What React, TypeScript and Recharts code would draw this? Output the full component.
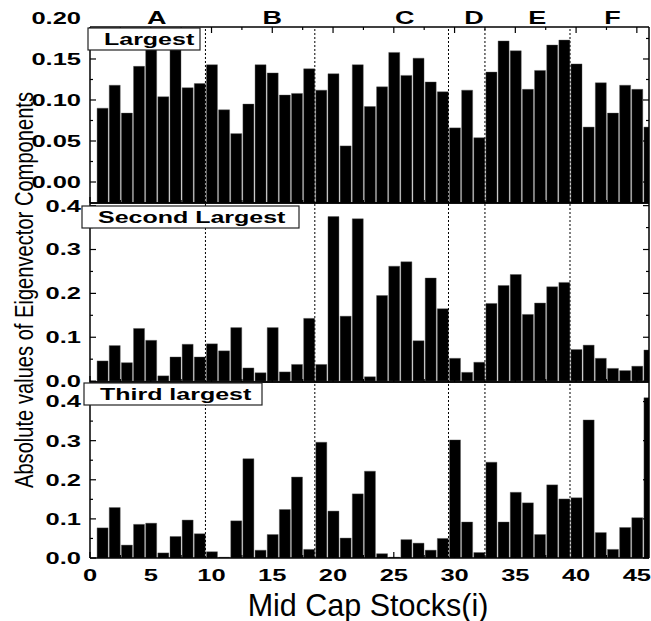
import { Bar, BarChart, ReferenceLine, XAxis, YAxis } from 'recharts';

// stock index along the x axis
const stocks = Array.from({ length: 46 }, (_, k) => k + 1);

// |eigenvector components|
const largest = [
  0.09, 0.118, 0.084, 0.141, 0.17, 0.104, 0.17, 0.115, 0.12, 0.143,
  0.088, 0.059, 0.095, 0.143, 0.133, 0.106, 0.108, 0.138, 0.112, 0.132,
  0.044, 0.143, 0.092, 0.116, 0.158, 0.13, 0.151, 0.122, 0.11, 0.066,
  0.112, 0.054, 0.134, 0.172, 0.16, 0.113, 0.136, 0.167, 0.173, 0.144,
  0.067, 0.121, 0.084, 0.118, 0.113, 0.067,
];
const secondLargest = [
  0.046, 0.081, 0.042, 0.12, 0.093, 0.012, 0.055, 0.084, 0.055, 0.085,
  0.069, 0.122, 0.03, 0.019, 0.122, 0.021, 0.038, 0.143, 0.038, 0.375,
  0.148, 0.37, 0.01, 0.195, 0.262, 0.272, 0.092, 0.235, 0.165, 0.052,
  0.02, 0.043, 0.177, 0.218, 0.243, 0.152, 0.178, 0.215, 0.225, 0.072,
  0.082, 0.052, 0.029, 0.024, 0.034, 0.071,
];
const thirdLargest = [
  0.077, 0.129, 0.033, 0.086, 0.089, 0.013, 0.055, 0.097, 0.062, 0.016,
  0.002, 0.095, 0.254, 0.02, 0.06, 0.124, 0.207, 0.022, 0.296, 0.12,
  0.051, 0.164, 0.222, 0.011, 0.002, 0.047, 0.038, 0.02, 0.05, 0.302,
  0.092, 0.014, 0.245, 0.092, 0.168, 0.141, 0.06, 0.187, 0.151, 0.154,
  0.353, 0.065, 0.022, 0.078, 0.103, 0.41,
];

const sectors = ['A', 'B', 'C', 'D', 'E', 'F'];
const sectorCenters = [5.5, 15, 25.9, 31.6, 36.8, 43];
const sectorBreaks = [9.5, 18.5, 29.5, 32.5, 39.5];

const xTicks = [0, 2.5, 5, 7.5, 10, 12.5, 15, 17.5, 20, 22.5, 25, 27.5, 30, 32.5, 35, 37.5, 40, 42.5, 45];
const topYTicks = [0, 0.025, 0.05, 0.075, 0.1, 0.125, 0.15, 0.175, 0.2];
const lowYTicks = [0, 0.05, 0.1, 0.15, 0.2, 0.25, 0.3, 0.35, 0.4];

const rows = stocks.map((i, k) => ({
  i,
  largest: largest[k],
  second: secondLargest[k],
  third: thirdLargest[k],
}));

const FONT = "'Liberation Sans', Arial, sans-serif";
const NARROW = "'Liberation Sans Narrow', 'Liberation Sans', Arial, sans-serif";
const isMultiple = (v: number, step: number) => Math.abs(v / step - Math.round(v / step)) < 1e-6;

function YTick(props: any) {
  const { x, y, payload, side, major, digits, maxVal } = props;
  const v = payload.value;
  const big = isMultiple(v, major);
  const dir = side === 'left' ? 1 : -1;
  return (
    <g>
      {v <= maxVal && (
        <line x1={x} x2={x + dir * (big ? 6 : 3)} y1={y} y2={y} stroke="#000" strokeWidth={1.2} />
      )}
      {side === 'left' && big && (
        <text
          transform={`translate(${x - 9},${y}) scale(1.5,1)`}
          textAnchor="end"
          dominantBaseline="central"
          fontFamily={FONT}
          fontWeight="bold"
          fontSize={17}
          fill="#000"
        >
          {v.toFixed(digits)}
        </text>
      )}
    </g>
  );
}

function XTick(props: any) {
  const { x, y, payload, side, labels } = props;
  const v = payload.value;
  const big = isMultiple(v, 5);
  const dir = side === 'top' ? 1 : -1;
  return (
    <g>
      <line x1={x} x2={x} y1={y} y2={y + dir * (big ? 6 : 3)} stroke="#000" strokeWidth={1.2} />
      {labels && big && (
        <text
          transform={`translate(${x},${y + 17}) scale(1.5,1)`}
          textAnchor="middle"
          dominantBaseline="central"
          fontFamily={FONT}
          fontWeight="bold"
          fontSize={17}
          fill="#000"
        >
          {v}
        </text>
      )}
    </g>
  );
}

function SectorLabel(props: any) {
  const { viewBox, value } = props;
  return (
    <text
      transform={`translate(${viewBox.x},${viewBox.y - 3}) scale(1.5,1)`}
      textAnchor="middle"
      fontFamily={FONT}
      fontWeight="bold"
      fontSize={18}
      fill="#000"
    >
      {value}
    </text>
  );
}

interface PanelProps {
  dataKey: 'largest' | 'second' | 'third';
  top: number;
  height: number;
  marginTop: number;
  marginBottom: number;
  domain: [number, number];
  yTicks: number[];
  major: number;
  digits: number;
  rangeBase?: number;
  topTicks?: boolean;
  xLabels?: boolean;
  showSectors?: boolean;
}

function Panel(p: PanelProps) {
  const axisLine = { stroke: '#000', strokeWidth: 1.5 };
  const value = p.rangeBase !== undefined
    ? (d: any) => [p.rangeBase, d[p.dataKey]]
    : p.dataKey;
  return (
    <div style={{ position: 'absolute', left: 0, top: p.top }}>
      <BarChart
        width={651}
        height={p.height}
        data={rows}
        margin={{ top: p.marginTop, right: 0, bottom: p.marginBottom, left: 0 }}
      >
        <XAxis
          xAxisId="b"
          dataKey="i"
          type="number"
          domain={[0, 46]}
          allowDataOverflow
          ticks={xTicks}
          interval={0}
          height={1}
          tickSize={0}
          tickMargin={0}
          tickLine={false}
          axisLine={axisLine}
          tick={(t: any) => <XTick {...t} side="bottom" labels={p.xLabels} />}
        />
        <XAxis
          xAxisId="t"
          orientation="top"
          dataKey="i"
          type="number"
          domain={[0, 46]}
          allowDataOverflow
          ticks={p.topTicks ? xTicks : []}
          interval={0}
          height={1}
          tickSize={0}
          tickMargin={0}
          tickLine={false}
          axisLine={axisLine}
          tick={(t: any) => <XTick {...t} side="top" />}
        />
        <YAxis
          yAxisId="l"
          width={90}
          domain={p.domain}
          allowDataOverflow
          ticks={p.yTicks}
          interval={0}
          tickSize={0}
          tickMargin={0}
          tickLine={false}
          axisLine={axisLine}
          tick={(t: any) => (
            <YTick {...t} side="left" major={p.major} digits={p.digits} maxVal={p.domain[1]} />
          )}
        />
        <YAxis
          yAxisId="r"
          orientation="right"
          width={2}
          domain={p.domain}
          allowDataOverflow
          ticks={p.yTicks}
          interval={0}
          tickSize={0}
          tickMargin={0}
          tickLine={false}
          axisLine={axisLine}
          tick={(t: any) => (
            <YTick {...t} side="right" major={p.major} digits={p.digits} maxVal={p.domain[1]} />
          )}
        />
        <Bar
          xAxisId="b"
          yAxisId="l"
          dataKey={value as any}
          fill="#000"
          stroke="#555"
          strokeWidth={0.4}
          barSize={11}
          isAnimationActive={false}
        />
        {sectorBreaks.map((b) => (
          <ReferenceLine
            key={b}
            xAxisId="b"
            yAxisId="l"
            x={b}
            stroke="#000"
            strokeWidth={1}
            strokeDasharray="2 2"
          />
        ))}
        {p.showSectors &&
          sectors.map((s, k) => (
            <ReferenceLine
              key={s}
              xAxisId="b"
              yAxisId="l"
              x={sectorCenters[k]}
              stroke="none"
              label={{ value: s, content: SectorLabel }}
            />
          ))}
      </BarChart>
    </div>
  );
}

function TagBox({ x, y, w, label }: { x: number; y: number; w: number; label: string }) {
  return (
    <g>
      <rect x={x} y={y} width={w} height={22} fill="#fff" stroke="#222" strokeWidth={1.2} />
      <text
        transform={`translate(${x + 16},${y + 11.5}) scale(1.47,1)`}
        dominantBaseline="central"
        fontFamily={FONT}
        fontWeight="bold"
        fontSize={17}
        fill="#000"
      >
        {label}
      </text>
    </g>
  );
}

export default function App() {
  return (
    <div style={{ position: 'absolute', left: 0, top: 0, width: 651, height: 621, background: '#fff' }}>
      <Panel
        dataKey="largest"
        top={0}
        height={210}
        marginTop={26}
        marginBottom={6}
        domain={[-0.0256, 0.189]}
        yTicks={topYTicks}
        major={0.05}
        digits={2}
        rangeBase={-0.0256}
        topTicks
        showSectors
      />
      <Panel
        dataKey="second"
        top={195}
        height={195}
        marginTop={7}
        marginBottom={7}
        domain={[-0.002, 0.406]}
        yTicks={lowYTicks}
        major={0.1}
        digits={1}
      />
      <Panel
        dataKey="third"
        top={375}
        height={215}
        marginTop={6}
        marginBottom={31}
        domain={[0, 0.45]}
        yTicks={lowYTicks}
        major={0.1}
        digits={1}
        xLabels
      />
      <svg
        width={651}
        height={621}
        style={{ position: 'absolute', left: 0, top: 0, pointerEvents: 'none' }}
      >
        <TagBox x={88} y={28} w={112} label="Largest" />
        <TagBox x={82} y={206} w={217} label="Second Largest" />
        <TagBox x={84} y={383} w={178} label="Third largest" />
        <text
          transform="translate(33,290) rotate(-90)"
          textAnchor="middle"
          fontFamily={NARROW}
          fontSize={26}
          textLength={396}
          lengthAdjust="spacingAndGlyphs"
          fill="#000"
        >
          Absolute values of Eigenvector Components
        </text>
        <text
          x={368}
          y={605}
          textAnchor="middle"
          dominantBaseline="central"
          fontFamily={FONT}
          fontSize={30.5}
          fill="#000"
        >
          Mid Cap Stocks(i)
        </text>
      </svg>
    </div>
  );
}
